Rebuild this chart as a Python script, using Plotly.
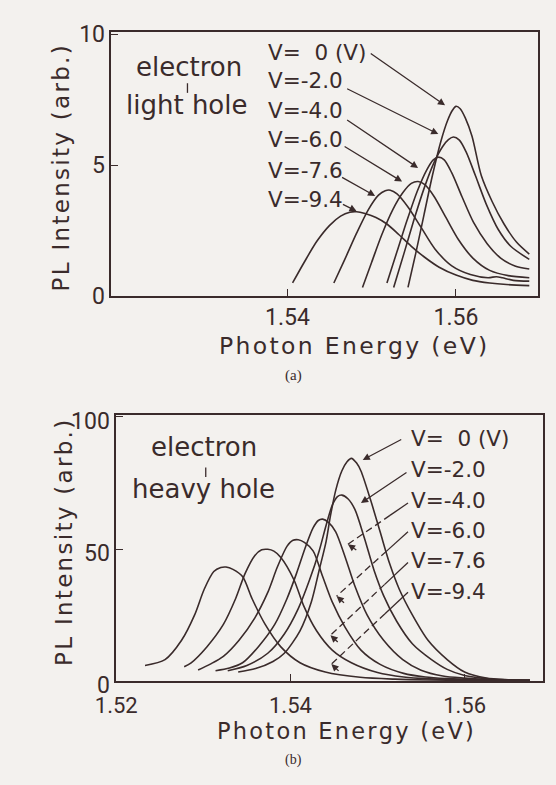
import math
import plotly.graph_objects as go

# ---------------- data: panel (a) electron - light hole ----------------
a_labels = ["V=\u00a0\u00a00 (V)", "V=-2.0", "V=-4.0", "V=-6.0", "V=-7.6", "V=-9.4"]
a_v0_x = [1.5543, 1.5552, 1.5562, 1.5572, 1.5582, 1.5590, 1.5596, 1.5600, 1.5605, 1.5611, 1.5619, 1.5630, 1.5643, 1.5657, 1.5672, 1.5687]
a_v0_y = [0.33, 1.6, 3.1, 4.6, 5.9, 6.7, 7.1, 7.24, 7.15, 6.8, 6.1, 4.6, 3.6, 2.75, 2.05, 1.6]
a_v2_x = [1.5526, 1.5538, 1.5550, 1.5562, 1.5574, 1.5584, 1.5591, 1.5597, 1.5604, 1.5612, 1.5623, 1.5636, 1.5650, 1.5665, 1.5687]
a_v2_y = [0.33, 1.6, 2.9, 4.1, 5.1, 5.7, 5.97, 6.07, 5.95, 5.5, 4.6, 3.5, 2.55, 1.9, 1.4]
a_v4_x = [1.5518, 1.5530, 1.5542, 1.5554, 1.5565, 1.5573, 1.5579, 1.5586, 1.5595, 1.5607, 1.5621, 1.5637, 1.5653, 1.5670, 1.5687]
a_v4_y = [0.5, 1.7, 2.9, 4.0, 4.8, 5.2, 5.3, 5.2, 4.7, 3.8, 2.8, 2.0, 1.45, 1.15, 1.03]
a_v6_x = [1.5489, 1.5500, 1.5512, 1.5525, 1.5537, 1.5547, 1.5555, 1.5563, 1.5574, 1.5588, 1.5603, 1.5620, 1.5640, 1.5662, 1.5687]
a_v6_y = [0.33, 1.3, 2.35, 3.3, 3.95, 4.3, 4.37, 4.25, 3.8, 3.0, 2.15, 1.45, 0.98, 0.78, 0.7]
a_v76_x = [1.5455, 1.5468, 1.5482, 1.5496, 1.5508, 1.5516, 1.5522, 1.5530, 1.5543, 1.5558, 1.5575, 1.5595, 1.5617, 1.5638, 1.5648, 1.5655, 1.5668, 1.5687]
a_v76_y = [0.5, 1.4, 2.4, 3.3, 3.85, 4.02, 4.04, 3.9, 3.4, 2.65, 1.8, 1.15, 0.82, 0.7, 0.74, 0.7, 0.6, 0.57]
a_v94_x = [1.5406, 1.5420, 1.5435, 1.5450, 1.5463, 1.5474, 1.5482, 1.5492, 1.5505, 1.5518, 1.5532, 1.5547, 1.5562, 1.5580, 1.5600, 1.5620, 1.5640, 1.5660, 1.5687]
a_v94_y = [0.5, 1.3, 2.1, 2.7, 3.05, 3.2, 3.22, 3.15, 3.0, 2.75, 2.35, 1.9, 1.5, 1.1, 0.8, 0.6, 0.5, 0.44, 0.4]

# ---------------- data: panel (b) electron - heavy hole ----------------
b_labels = ["V=\u00a0\u00a00 (V)", "V=-2.0", "V=-4.0", "V=-6.0", "V=-7.6", "V=-9.4"]
b_v0_x = [1.5340, 1.5360, 1.5380, 1.5393, 1.5411, 1.5424, 1.5433, 1.5441, 1.5446, 1.5452, 1.5459, 1.5465, 1.5470, 1.5476, 1.5481, 1.5492, 1.5503, 1.5514, 1.5525, 1.5540, 1.5558, 1.5580, 1.5600, 1.5625, 1.5650, 1.5675]
b_v0_y = [3.5, 4.8, 7.5, 10.6, 19.1, 30, 42, 52.9, 62.6, 72.2, 79.5, 83, 84.3, 82.5, 79.5, 68.6, 56.5, 44.4, 34.8, 25.1, 15.5, 8.2, 3.5, 1.2, 0.6, 0.4]
b_v2_x = [1.5328, 1.5350, 1.5374, 1.5393, 1.5409, 1.5422, 1.5433, 1.5441, 1.5448, 1.5454, 1.5459, 1.5466, 1.5474, 1.5485, 1.5496, 1.5507, 1.5522, 1.5540, 1.5562, 1.5580, 1.5600, 1.5625, 1.5650, 1.5675]
b_v2_y = [4.0, 6.0, 10.6, 17.9, 27.5, 38.4, 49.3, 59, 66.5, 69.8, 70.4, 69, 65, 54.1, 42, 32.4, 22.7, 14.2, 8.2, 4.5, 2.2, 1.0, 0.5, 0.4]
b_v4_x = [1.5314, 1.5330, 1.5345, 1.5363, 1.5382, 1.5396, 1.5407, 1.5417, 1.5426, 1.5432, 1.5437, 1.5444, 1.5452, 1.5463, 1.5474, 1.5488, 1.5507, 1.5529, 1.5550, 1.5575, 1.5600, 1.5625, 1.5650, 1.5675]
b_v4_y = [4.0, 5.0, 7.0, 13, 21.5, 31.2, 40.8, 50.5, 58, 60.8, 61.3, 60, 56.5, 46.8, 36, 25.1, 15.5, 8.2, 4.2, 2.0, 1.2, 0.7, 0.5, 0.4]
b_v6_x = [1.5294, 1.5308, 1.5323, 1.5341, 1.5359, 1.5374, 1.5385, 1.5396, 1.5403, 1.5409, 1.5416, 1.5426, 1.5437, 1.5448, 1.5463, 1.5481, 1.5503, 1.5530, 1.5555, 1.5580, 1.5610, 1.5640, 1.5675]
b_v6_y = [4.3, 6.5, 9.4, 15.5, 23.9, 33.6, 43.2, 51.0, 53.3, 53.5, 52.5, 49.3, 39.6, 30, 20.3, 11.8, 6.4, 3.0, 1.6, 1.0, 0.6, 0.5, 0.4]
b_v76_x = [1.5278, 1.5286, 1.5304, 1.5323, 1.5337, 1.5348, 1.5359, 1.5367, 1.5374, 1.5381, 1.5389, 1.5404, 1.5415, 1.5430, 1.5448, 1.5470, 1.5500, 1.5530, 1.5560, 1.5600, 1.5640, 1.5675]
b_v76_y = [5.5, 7, 13, 21.5, 31.2, 40.8, 47.5, 49.7, 49.9, 49.2, 46.8, 38.4, 28.7, 19.1, 11.8, 7, 3.3, 1.6, 0.9, 0.5, 0.4, 0.3]
b_v94_x = [1.5233, 1.5256, 1.5275, 1.5290, 1.5301, 1.5312, 1.5320, 1.5326, 1.5334, 1.5345, 1.5356, 1.5371, 1.5389, 1.5411, 1.5440, 1.5480, 1.5520, 1.5560, 1.5600, 1.5640, 1.5675]
b_v94_y = [6.0, 8.2, 15.5, 25.1, 34.8, 41.5, 43.0, 43.2, 42.3, 39.6, 31.2, 21.5, 13, 7, 3.5, 1.5, 0.8, 0.5, 0.4, 0.3, 0.3]

# arrow heads (data coords on curves) and tails (end of label text)
a_head_x = [1.5587, 1.5579, 1.5555, 1.5536, 1.5504, 1.5482]
a_head_y = [7.28, 6.18, 4.89, 4.37, 3.82, 3.24]
a_tail_x = [1.5497, 1.5469, 1.5469, 1.5466, 1.5463, 1.5464]
a_tail_y = [9.30, 7.94, 6.76, 5.74, 4.56, 3.53]
a_lab_y = [9.30, 8.24, 7.10, 5.96, 4.78, 3.68]

b_head_x = [1.5483, 1.5481, 1.5466, 1.5453, 1.5446, 1.5447]
b_head_y = [83.7, 67.4, 51.8, 32.2, 17.4, 6.5]
b_tail_x = [1.5529, 1.5535, 1.5535, 1.5535, 1.5535, 1.5535]
b_tail_y = [91.7, 79.3, 67.4, 56.5, 44.9, 33.7]
b_lab_y = [91.7, 80.1, 68.5, 57.2, 45.7, 34.1]
b_dashed = [False, False, True, True, True, True]

INK = "#3a2b2b"
BG = "#f3f1ee"
FONT = "DejaVu Sans"
HS = "\u200a"

# axis geometry (pixels)
XA = (94, 537, 1.5191, 1.5697)
YA = (296, 22, 0, 10.07)
XB = (99, 542, 1.52, 1.56895)
YB = (696, 420, 0, 100.5)


def spaced(s):
    return HS.join(s)


def ppu(ax):
    return (ax[1] - ax[0]) / (ax[3] - ax[2])


fig = go.Figure()
a_series = [(a_v0_x, a_v0_y), (a_v2_x, a_v2_y), (a_v4_x, a_v4_y),
            (a_v6_x, a_v6_y), (a_v76_x, a_v76_y), (a_v94_x, a_v94_y)]
b_series = [(b_v0_x, b_v0_y), (b_v2_x, b_v2_y), (b_v4_x, b_v4_y),
            (b_v6_x, b_v6_y), (b_v76_x, b_v76_y), (b_v94_x, b_v94_y)]
for (xs, ys), name in zip(a_series, a_labels):
    fig.add_trace(go.Scatter(x=xs, y=ys, mode="lines", name=name, xaxis="x", yaxis="y",
                             line=dict(color=INK, width=1.6, shape="spline", smoothing=0.8),
                             showlegend=False, hoverinfo="skip"))
for (xs, ys), name in zip(b_series, b_labels):
    fig.add_trace(go.Scatter(x=xs, y=ys, mode="lines", name=name, xaxis="x2", yaxis="y2",
                             line=dict(color=INK, width=1.6, shape="spline", smoothing=0.8),
                             showlegend=False, hoverinfo="skip"))

ann = []
shapes = []
for lab, ly, hx, hy, tx, ty in zip(a_labels, a_lab_y, a_head_x, a_head_y, a_tail_x, a_tail_y):
    ann.append(dict(x=1.5375, y=ly, xref="x", yref="y", text=lab, showarrow=False,
                    xanchor="left", yanchor="middle", font=dict(family=FONT, size=21.5, color=INK)))
    ann.append(dict(x=hx, y=hy, ax=tx, ay=ty, xref="x", yref="y", axref="x", ayref="y",
                    text="", showarrow=True, arrowhead=2, arrowsize=1.1, arrowwidth=1.3,
                    arrowcolor=INK))
kx, ky = ppu(XB), ppu(YB)
for lab, ly, hx, hy, tx, ty, dsh in zip(b_labels, b_lab_y, b_head_x, b_head_y, b_tail_x, b_tail_y, b_dashed):
    ann.append(dict(x=1.5536, y=ly, xref="x2", yref="y2", text=lab, showarrow=False,
                    xanchor="left", yanchor="middle", font=dict(family=FONT, size=21.5, color=INK)))
    if not dsh:
        ann.append(dict(x=hx, y=hy, ax=tx, ay=ty, xref="x2", yref="y2", axref="x2", ayref="y2",
                        text="", showarrow=True, arrowhead=2, arrowsize=1.1, arrowwidth=1.3,
                        arrowcolor=INK))
    else:
        # solid first part near the label, dashed across the curves, arrowhead at the end
        dxp = (tx - hx) * kx
        dyp = (ty - hy) * ky
        L = math.hypot(dxp, dyp)
        f = 0.3
        mx = tx + (hx - tx) * f
        my = ty + (hy - ty) * f
        shapes.append(dict(type="line", xref="x2", yref="y2", x0=tx, y0=ty, x1=mx, y1=my,
                           line=dict(color=INK, width=1.3)))
        shapes.append(dict(type="line", xref="x2", yref="y2", x0=mx, y0=my, x1=hx, y1=hy,
                           line=dict(color=INK, width=1.3, dash="7px,4px")))
        ann.append(dict(x=hx, y=hy, ax=dxp / L * 12, ay=-dyp / L * 12, xref="x2", yref="y2",
                        text="", showarrow=True, arrowhead=2, arrowsize=1.1, arrowwidth=1.3,
                        arrowcolor=INK))


def ptxt(text, x, y, size=22, angle=0, family=FONT):
    return dict(x=x / 556, y=1 - y / 785, xref="paper", yref="paper", text=text,
                showarrow=False, xanchor="center", yanchor="middle", textangle=angle,
                font=dict(family=family, size=size, color=INK))


ann += [
    ptxt("electron", 175, 58, 26),
    ptxt("light hole", 173, 98, 26),
    ptxt("electron", 190, 453, 26),
    ptxt("heavy hole", 190, 496, 26),
    ptxt(spaced("PL Intensity (arb.)"), 42, 163, 23, -90),
    ptxt(spaced("PL Intensity (arb.)"), 44, 552, 23, -90),
    ptxt(spaced("Photon Energy (eV)"), 345, 348, 23.5),
    ptxt(spaced("Photon Energy (eV)"), 337, 748, 22.5),
    ptxt("(a)", 283, 378, 15, 0, "Liberation Serif"),
    ptxt("(b)", 283, 778, 14, 0, "Liberation Serif"),
]

shapes += [
    dict(type="line", xref="paper", yref="paper", x0=173 / 556, x1=173 / 556,
         y0=1 - 75 / 785, y1=1 - 85 / 785, line=dict(color=INK, width=1.3)),
    dict(type="line", xref="paper", yref="paper", x0=192 / 556, x1=192 / 556,
         y0=1 - 474 / 785, y1=1 - 484 / 785, line=dict(color=INK, width=1.3)),
]

axis_common = dict(showline=True, linecolor=INK, linewidth=1.6, mirror=True,
                   showgrid=False, zeroline=False, ticks="inside", ticklen=7,
                   tickcolor=INK, tickwidth=1.4)
TF = dict(family="Roboto", size=23, color=INK)
TF2 = dict(family="Roboto", size=22, color=INK)

fig.update_layout(
    width=556, height=785,
    margin=dict(l=0, r=0, t=0, b=0),
    paper_bgcolor=BG, plot_bgcolor=BG,
    xaxis=dict(domain=[XA[0] / 556, XA[1] / 556], range=[XA[2], XA[3]],
               tickvals=[1.54, 1.56], ticktext=["1.54", "1.56"], anchor="y",
               tickfont=TF, **axis_common),
    yaxis=dict(domain=[1 - YA[0] / 785, 1 - YA[1] / 785], range=[YA[2], YA[3]],
               tickvals=[0, 5, 10], ticktext=["0", "5", "10"], anchor="x",
               tickfont=TF, **axis_common),
    xaxis2=dict(domain=[XB[0] / 556, XB[1] / 556], range=[XB[2], XB[3]],
                tickvals=[1.52, 1.54, 1.56], ticktext=["1.52", "1.54", "1.56"], anchor="y2",
                ticklabelstandoff=4, tickfont=TF2, **axis_common),
    yaxis2=dict(domain=[1 - YB[0] / 785, 1 - YB[1] / 785], range=[YB[2], YB[3]],
                tickvals=[0, 50, 100], ticktext=["0", "50", "100"], anchor="x2",
                ticklabelshift=4, tickfont=TF, **axis_common),
    annotations=ann,
    shapes=shapes,
)

fig.write_html("out.html")
